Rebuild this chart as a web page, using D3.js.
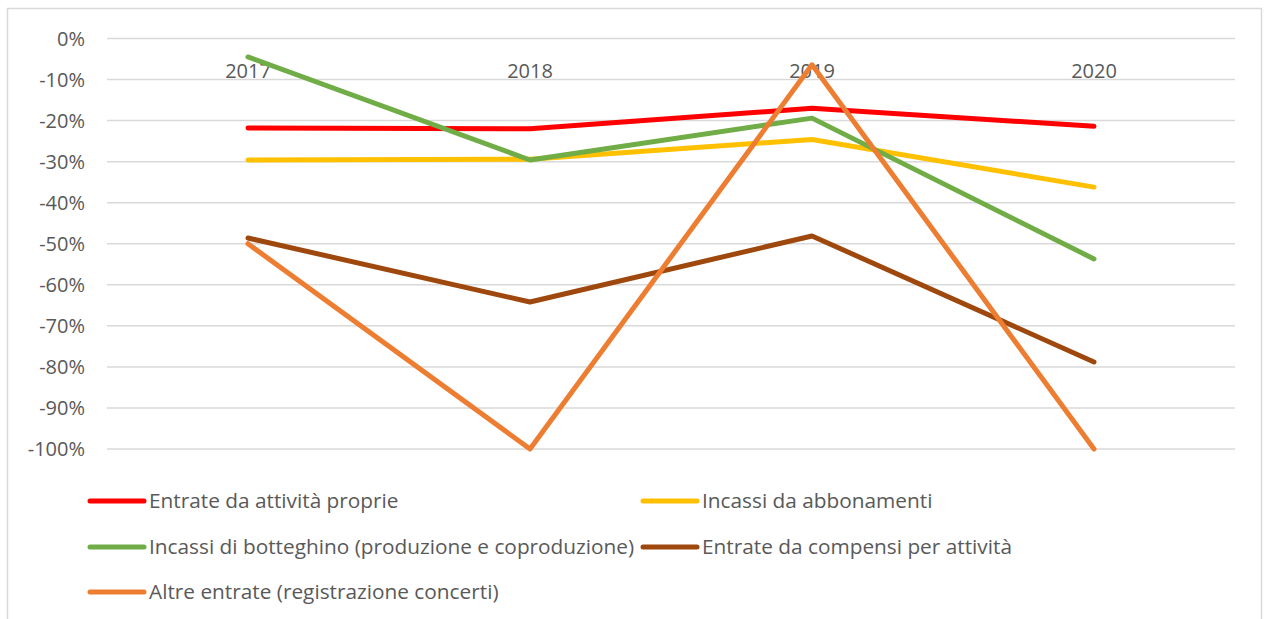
<!DOCTYPE html>
<html>
  <head>
    <meta charset="utf-8" />
    <script src="https://d3js.org/d3.v7.min.js"></script>
    <style>
      body { margin: 0; background: #fff; }
      text { font-family: "Open Sans", "Noto Sans", sans-serif; fill: #595959; }
    </style>
  </head>
  <body>
    <svg id="chart"></svg>
    <script>
      // data
      var years = ["2017", "2018", "2019", "2020"];
      var yTicks = [0, -0.1, -0.2, -0.3, -0.4, -0.5, -0.6, -0.7, -0.8, -0.9, -1];
      var seriesNames = [
        "Entrate da attività proprie",
        "Incassi da abbonamenti",
        "Incassi di botteghino (produzione e coproduzione)",
        "Entrate da compensi per attività",
        "Altre entrate (registrazione concerti)"
      ];
      var seriesColors = ["#FF0000", "#FFC000", "#70AD47", "#9E480E", "#ED7D31"];
      var entrateProprie = [-0.218, -0.220, -0.170, -0.214];
      var abbonamenti = [-0.296, -0.294, -0.246, -0.362];
      var botteghino = [-0.045, -0.296, -0.194, -0.537];
      var compensi = [-0.486, -0.642, -0.481, -0.788];
      var altreEntrate = [-0.500, -1.0, -0.064, -1.0];
      var allValues = [entrateProprie, abbonamenti, botteghino, compensi, altreEntrate];

      var width = 1264;
      var height = 619;

      var svg = d3.select("#chart").attr("width", width).attr("height", height);

      // outer chart border
      svg.append("rect")
        .attr("x", 7.5).attr("y", 8.5)
        .attr("width", 1254).attr("height", 640)
        .attr("fill", "none")
        .attr("stroke", "#D9D9D9")
        .attr("stroke-width", 1.5);

      var x = d3.scaleBand().domain(years).range([107, 1235]);
      var y = d3.scaleLinear().domain([-1, 0]).range([449, 38.5]);

      // gridlines
      svg.append("g")
        .selectAll("line")
        .data(yTicks)
        .join("line")
        .attr("x1", 107).attr("x2", 1235)
        .attr("y1", d => y(d)).attr("y2", d => y(d))
        .attr("stroke", "#D9D9D9")
        .attr("stroke-width", 1.5);

      // y labels
      svg.append("g")
        .selectAll("text")
        .data(yTicks)
        .join("text")
        .attr("x", 85)
        .attr("y", d => y(d))
        .attr("dy", "0.35em")
        .attr("text-anchor", "end")
        .style("font-size", "20px")
        .text(d => d3.format(".0%")(d).replace("−", "-"));

      // year labels (category axis sits at 0%)
      svg.append("g")
        .selectAll("text")
        .data(years)
        .join("text")
        .attr("x", d => x(d) + x.bandwidth() / 2)
        .attr("y", y(0) + 39.5)
        .attr("text-anchor", "middle")
        .style("font-size", "20px")
        .text(d => d);

      var line = d3.line()
        .x((d, i) => x(years[i]) + x.bandwidth() / 2)
        .y(d => y(d));

      // draw order as in reference: orange on top of others
      var order = [3, 0, 1, 2, 4];
      svg.append("g")
        .selectAll("path")
        .data(order)
        .join("path")
        .attr("d", i => line(allValues[i]))
        .attr("fill", "none")
        .attr("stroke", i => seriesColors[i])
        .attr("stroke-width", 5)
        .attr("stroke-linecap", "round")
        .attr("stroke-linejoin", "round");

      // legend
      var legendPos = [
        [88, 501], [641, 501],
        [88, 547], [641, 547],
        [88, 592]
      ];
      var legend = svg.append("g")
        .selectAll("g")
        .data(seriesNames)
        .join("g")
        .attr("transform", (d, i) => `translate(${legendPos[i][0]},${legendPos[i][1]})`);

      legend.append("line")
        .attr("x1", 2).attr("x2", 56)
        .attr("y1", 0).attr("y2", 0)
        .attr("stroke", (d, i) => seriesColors[i])
        .attr("stroke-width", 5)
        .attr("stroke-linecap", "round");

      legend.append("text")
        .attr("x", 61)
        .attr("y", 0)
        .attr("dy", "0.35em")
        .style("font-size", "20.8px")
        .text(d => d);
    </script>
  </body>
</html>
